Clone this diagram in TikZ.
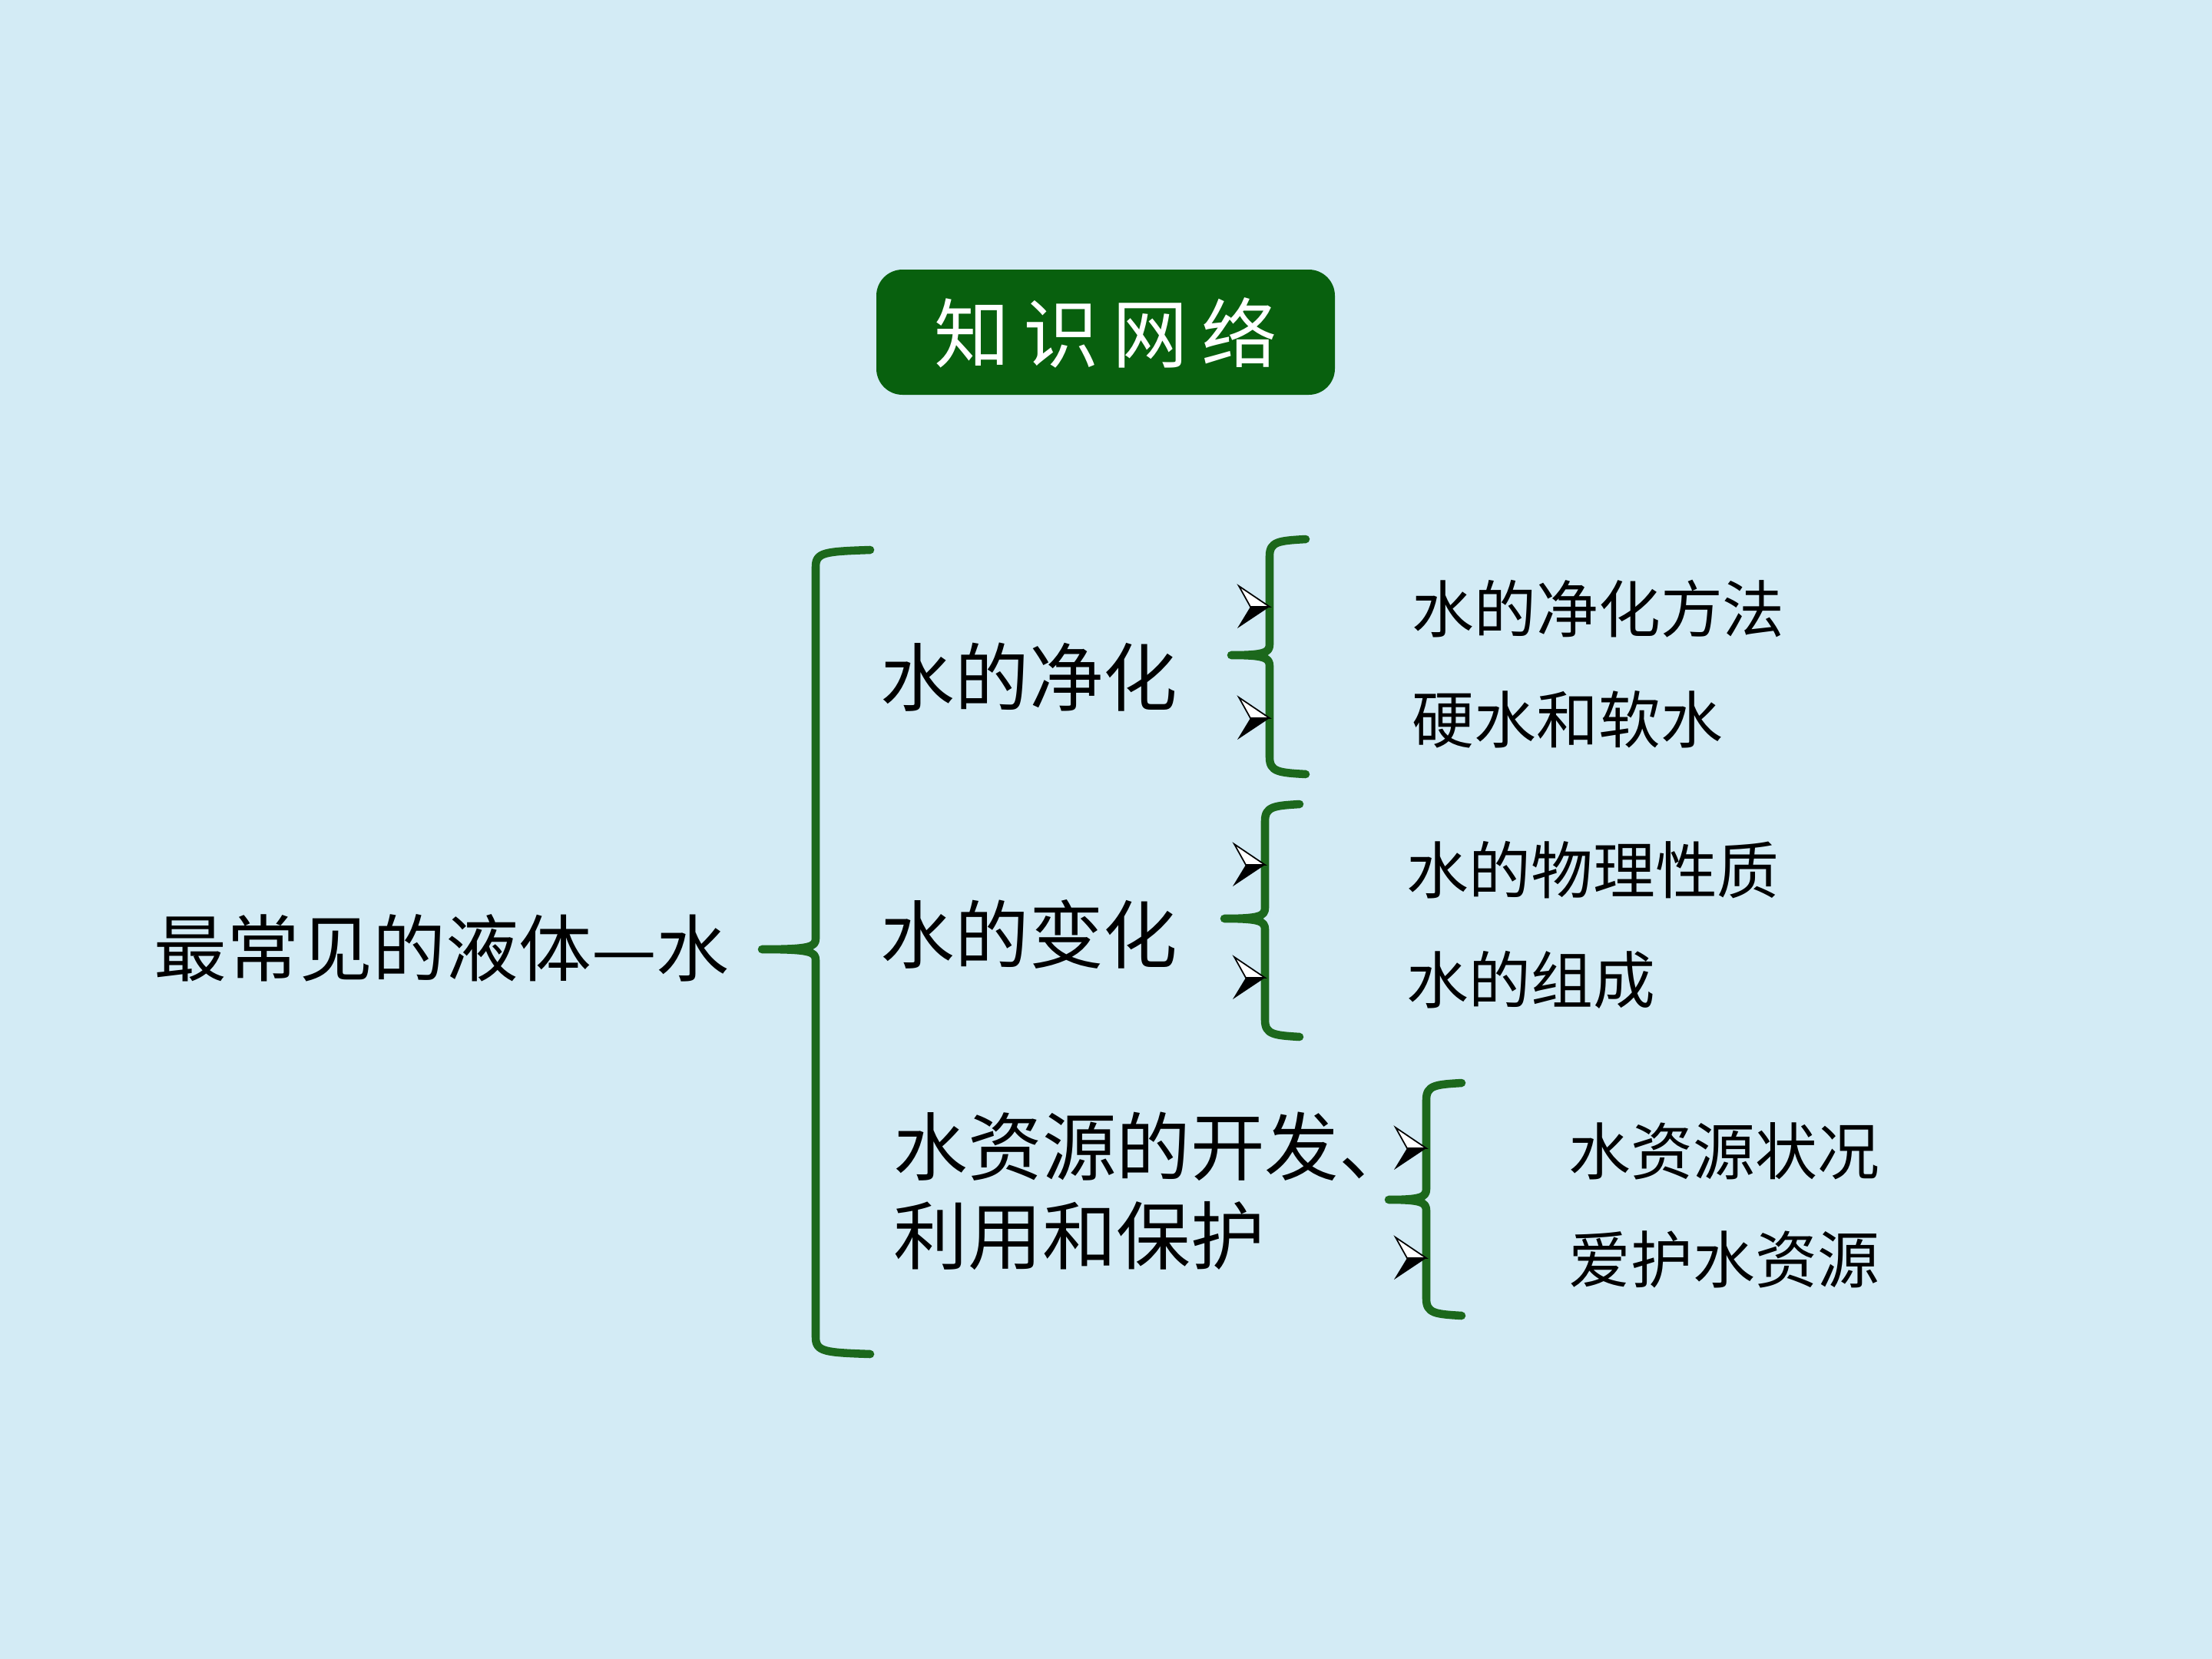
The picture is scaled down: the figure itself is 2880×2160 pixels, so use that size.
\documentclass[tikz,border=0pt]{standalone}
\usepackage{fontspec}
\setmainfont{Noto Sans CJK SC}
\usepackage{tikz}

\definecolor{fundo}{RGB}{211,235,245}
\definecolor{verdecaixa}{RGB}{8,96,14}
\definecolor{verdechave}{RGB}{28,104,28}

\tikzset{
  topo/.style={font=\fontsize{27}{30}\selectfont,anchor=west,inner sep=0pt},
  ramo/.style={font=\fontsize{27.5}{31}\selectfont,anchor=west,inner sep=0pt},
  folha/.style={font=\fontsize{23}{26}\selectfont,anchor=west,inner sep=0pt},
  chave/.style={verdechave,line width=3pt,line cap=round,line join=round},
  seta/.pic={
    \filldraw[fill=white,draw=black,line width=0.5pt] (0,0) -- (-40,-27) -- (-25,0) -- cycle;
    \fill[black] (0,0) -- (-25,0) -- (-42,28) -- cycle;
  }
}

% chave: x vertical, x ponta, x fim, y topo, y meio, y base
\newcommand{\chave}[6]{%
  \draw[chave] (#3,#4) .. controls (#1+12,#4+2) and (#1,#4+3) .. (#1,#4+22)
    -- (#1,#5-14) .. controls (#1,#5-3) and (#1-8,#5) .. (#2,#5)
    .. controls (#1-8,#5) and (#1,#5+3) .. (#1,#5+14)
    -- (#1,#6-22) .. controls (#1,#6-3) and (#1+12,#6-2) .. (#3,#6);
}

\begin{document}
\begin{tikzpicture}[x=0.1mm,y=-0.1mm]

%---------------------------
% fundo
%---------------------------
\fill[fundo] (0,0) rectangle (2880,2160);
\useasboundingbox (0,0) rectangle (2880,2160);

%---------------------------
% título
%---------------------------
\fill[verdecaixa,rounded corners=3.4mm] (1141,351) rectangle (1738,514);
\node[white,inner sep=0pt,font=\fontsize{28}{30}\selectfont] (titulo) at (1440,433)
  {知\hspace{0.18em}识\hspace{0.18em}网\hspace{0.18em}络};

%---------------------------
% textos
%---------------------------
\node[topo] (agua) at (200,1234) {最常见的液体—水};

\node[ramo] (purif) at (1146,882) {水的净化};
\node[ramo] (mudanca) at (1146,1216) {水的变化};
\node[ramo] (recurso1) at (1163,1493) {水资源的开发、};
\node[ramo] (recurso2) at (1163,1609) {利用和保护};

\node[folha] (metodo) at (1838,793) {水的净化方法};
\node[folha] (dura) at (1838,937) {硬水和软水};
\node[folha] (fisica) at (1831,1133) {水的物理性质};
\node[folha] (compos) at (1831,1276) {水的组成};
\node[folha] (estado) at (2042,1499) {水资源状况};
\node[folha] (protege) at (2042,1640) {爱护水资源};

%---------------------------
% chaves
%---------------------------
\chave{1062}{992}{1133}{716}{1236}{1763}
\chave{1653}{1603}{1700}{702}{853}{1008}
\chave{1647}{1594}{1692}{1047}{1196}{1350}
\chave{1857}{1808}{1903}{1410}{1562}{1713}

%---------------------------
% setas
%---------------------------
\foreach \x/\y in {1653/790,1653/935,1647/1126,1647/1273,1857/1495,1857/1638}
  \pic at (\x,\y) {seta};

\end{tikzpicture}
\end{document}
